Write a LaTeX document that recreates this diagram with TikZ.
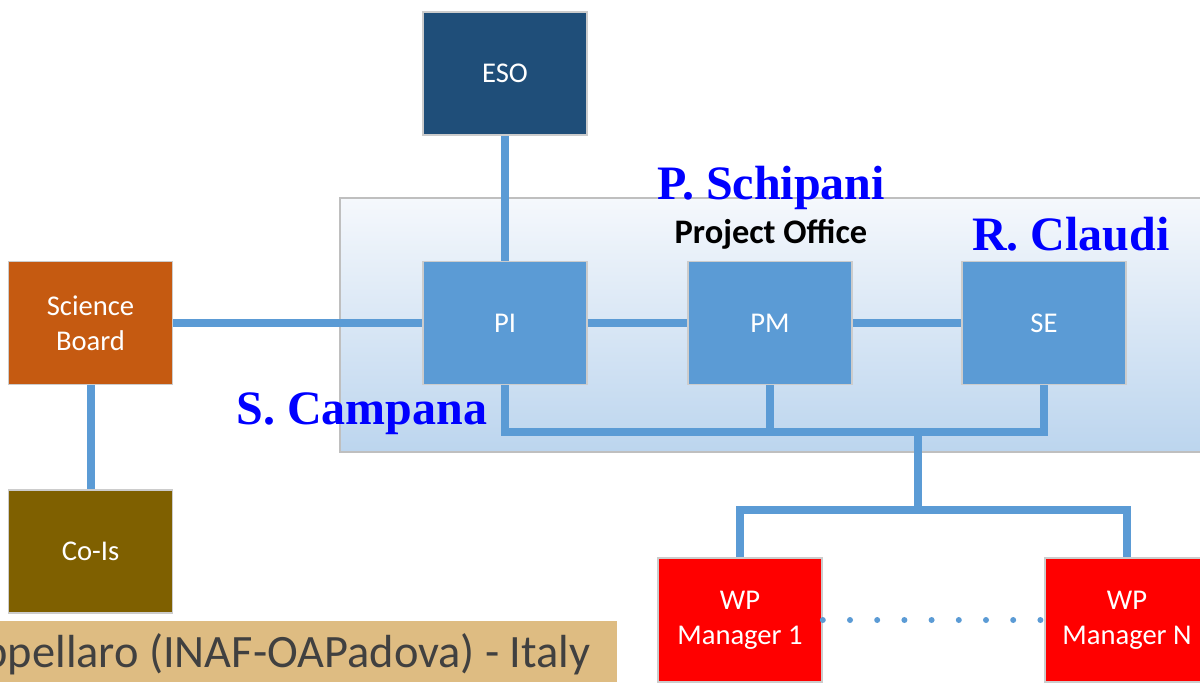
\documentclass[tikz,border=0pt]{standalone}
\usepackage{fontspec}
\setmainfont{Carlito}
\newfontfamily\namefont{Liberation Serif}
\definecolor{esoblue}{HTML}{1F4E79}
\definecolor{midblue}{HTML}{5B9BD5}
\definecolor{sborange}{HTML}{C55A11}
\definecolor{coibrown}{HTML}{7F6000}
\definecolor{wpred}{HTML}{FF0000}
\definecolor{namecol}{HTML}{0000FF}
\definecolor{bannercol}{HTML}{DEBC82}
\definecolor{bannertext}{HTML}{404040}
\definecolor{offtop}{HTML}{F5F8FC}
\definecolor{offbot}{HTML}{BCD5EE}
\tikzset{
  orgbox/.style={draw=black!20, line width=0.8pt, minimum width=82pt, minimum height=61.5pt,
    text=white, align=center, inner sep=0pt, font=\fontsize{14.3}{17.5}\selectfont},
  conn/.style={midblue, line width=4pt},
  dotconn/.style={midblue, line width=3pt, line cap=round, dash pattern=on 0pt off 13.6pt},
  person/.style={text=namecol, font=\namefont\bfseries\fontsize{24}{28}\selectfont, inner sep=0pt},
}
\begin{document}
\begin{tikzpicture}[x=0.5pt,y=-0.5pt]
\useasboundingbox (0,0) rectangle (1200,682);
% project office background
\shade[top color=offtop, bottom color=offbot, draw=black!25, line width=0.8pt]
  (340,198) rectangle (1210,452);
% boxes
\node[orgbox, fill=esoblue] (eso) at (505,73.5) {ESO};
\node[orgbox, fill=midblue] (pi) at (505,323) {PI};
\node[orgbox, fill=midblue] (pm) at (770,323) {PM};
\node[orgbox, fill=midblue] (se) at (1044,323) {SE};
\node[orgbox, fill=sborange] (sb) at (90.5,323) {Science\\Board};
\node[orgbox, fill=coibrown] (cois) at (90.5,551.5) {Co-Is};
\node[orgbox, fill=wpred, minimum height=62pt] (wp1) at (740,620) {WP\\Manager 1};
\node[orgbox, fill=wpred, minimum height=62pt] (wpn) at (1127,620) {WP\\Manager N};
% connectors
\coordinate (bus) at (918,432);
\coordinate (split) at (918,510);
\draw[conn] (eso.south) -- (pi.north);
\draw[conn] (sb.east) -- (pi.west);
\draw[conn] (pi.east) -- (pm.west);
\draw[conn] (pm.east) -- (se.west);
\draw[conn] (sb.south) -- (cois.north);
\draw[conn] (pi.south) |- (bus) -| (se.south);
\draw[conn] (pm.south) -- (pm.south |- bus);
\draw[conn] (bus) -- (split);
\draw[conn] (wp1.north) |- (split) -| (wpn.north);
\draw[dotconn] (wp1.east) -- (wpn.west);
% labels
\node[person] (schip) at (771,188) {P. Schipani};
\node[font=\bfseries\fontsize{17.2}{20}\selectfont, inner sep=0pt] (po) at (771,234) {Project Office};
\node[person] (claudi) at (1071,234) {R. Claudi};
\node[person] (camp) at (362,414) {S. Campana};
% banner
\fill[bannercol] (0,621) rectangle (617,682);
\node[anchor=east, text=bannertext, font=\fontsize{23.2}{27}\selectfont, inner sep=0pt] (banner) at (591,654) {ppellaro (INAF-OAPadova) - Italy};
\end{tikzpicture}
\end{document}
